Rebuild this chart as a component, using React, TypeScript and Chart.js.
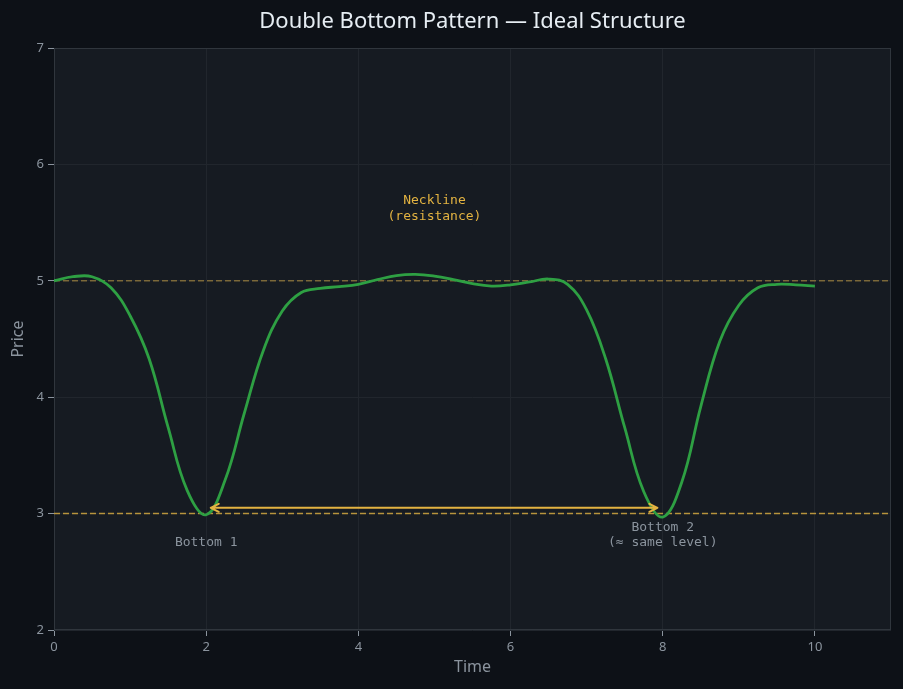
import { Chart, registerables } from "chart.js"
import React, { useEffect, useRef } from "react"

Chart.register(...registerables)

const times = [
  0, 0.25, 0.5, 0.75, 1, 1.25, 1.5, 1.75, 2, 2.25, 2.5, 2.75, 3, 3.25, 3.5, 3.75, 4, 4.25, 4.5, 4.75, 5,
  5.25, 5.5, 5.75, 6, 6.25, 6.5, 6.75, 7, 7.25, 7.5, 7.75, 8, 8.25, 8.5, 8.75, 9, 9.25, 9.5, 9.75, 10,
]
const prices = [
  5.0, 5.035, 5.035, 4.94, 4.7, 4.33, 3.74, 3.2, 2.99, 3.29, 3.86, 4.4, 4.74, 4.9, 4.935, 4.95, 4.97, 5.01,
  5.045, 5.055, 5.04, 5.01, 4.975, 4.955, 4.965, 4.99, 5.015, 4.97, 4.75, 4.33, 3.74, 3.19, 2.97, 3.27, 3.92,
  4.48, 4.79, 4.94, 4.97, 4.965, 4.955,
]

const necklineLevel = 5
const supportLevel = 3
const xRange = [0, 11]
const yRange = [2, 7]
const xTicks = [0, 2, 4, 6, 8, 10]
const yTicks = [2, 3, 4, 5, 6, 7]

// "same level" arrow between the two lows
const arrowFrom = [2.06, 3.05]
const arrowTo = [7.93, 3.05]

const notes = [
  { lines: ["Neckline", "(resistance)"], x: 5, y: [5.685, 5.555], color: "#e3b341" },
  { lines: ["Bottom 1"], x: 2, y: [2.75], color: "#8b949e" },
  { lines: ["Bottom 2", "(≈ same level)"], x: 8, y: [2.88, 2.75], color: "#8b949e" },
]

const GRID = "#21262d"
const MUTED = "#8b949e"

const backdrop = {
  id: "backdrop",
  beforeDraw(chart: Chart) {
    const { ctx, chartArea: a } = chart
    ctx.save()
    ctx.fillStyle = "#0d1117"
    ctx.fillRect(0, 0, chart.width, chart.height)
    ctx.fillStyle = "#161b22"
    ctx.fillRect(a.left, a.top, a.right - a.left, a.bottom - a.top)
    ctx.restore()
  },
  beforeDatasetsDraw(chart: Chart) {
    const { ctx, chartArea: a } = chart
    ctx.save()
    ctx.strokeStyle = "#30363d"
    ctx.lineWidth = 1
    ctx.strokeRect(a.left + 0.5, a.top + 0.5, a.right - a.left - 1, a.bottom - a.top - 1)
    ctx.restore()
  },
}

const annotations = {
  id: "annotations",
  afterDatasetsDraw(chart: Chart) {
    const { ctx } = chart
    const xs = chart.scales.x
    const ys = chart.scales.y
    ctx.save()

    // double-headed arrow
    const x1 = xs.getPixelForValue(arrowFrom[0])
    const y1 = ys.getPixelForValue(arrowFrom[1])
    const x2 = xs.getPixelForValue(arrowTo[0])
    const y2 = ys.getPixelForValue(arrowTo[1])
    ctx.strokeStyle = "#e3b341"
    ctx.lineWidth = 2
    ctx.lineCap = "round"
    ctx.lineJoin = "round"
    ctx.beginPath()
    ctx.moveTo(x1, y1)
    ctx.lineTo(x2, y2)
    ctx.moveTo(x1 + 8, y1 - 4)
    ctx.lineTo(x1, y1)
    ctx.lineTo(x1 + 8, y1 + 4)
    ctx.moveTo(x2 - 8, y2 - 4)
    ctx.lineTo(x2, y2)
    ctx.lineTo(x2 - 8, y2 + 4)
    ctx.stroke()

    ctx.font = "13px 'DejaVu Sans Mono', monospace"
    ctx.textAlign = "center"
    ctx.textBaseline = "middle"
    notes.forEach((n) => {
      ctx.fillStyle = n.color
      n.lines.forEach((line, i) => {
        ctx.fillText(line, xs.getPixelForValue(n.x), ys.getPixelForValue(n.y[i]))
      })
    })
    ctx.restore()
  },
}

const App: React.FC = () => {
  const canvasRef = useRef<HTMLCanvasElement>(null)

  useEffect(() => {
    document.body.style.margin = "0"
    document.body.style.background = "#0d1117"
    const ctx = canvasRef.current?.getContext("2d")
    if (!ctx) return

    const chart = new Chart(ctx, {
      type: "line",
      data: {
        datasets: [
          {
            label: "Price",
            data: times.map((t, i) => ({ x: t, y: prices[i] })),
            borderColor: "#2ea043",
            borderWidth: 2.8,
            pointRadius: 0,
            tension: 0.4,
            fill: false,
          },
          {
            label: "Support",
            data: [
              { x: xRange[0], y: supportLevel },
              { x: xRange[1], y: supportLevel },
            ],
            borderColor: "rgba(227,179,65,0.78)",
            borderWidth: 1.5,
            borderDash: [6, 3],
            pointRadius: 0,
          },
          {
            label: "Neckline",
            data: [
              { x: xRange[0], y: necklineLevel },
              { x: xRange[1], y: necklineLevel },
            ],
            borderColor: "rgba(200,160,70,0.55)",
            borderWidth: 1.5,
            borderDash: [6, 3],
            pointRadius: 0,
          },
        ],
      },
      options: {
        responsive: false,
        animation: false,
        layout: { padding: { left: 0, right: 12, top: 0, bottom: 0 } },
        plugins: {
          legend: { display: false },
          tooltip: { enabled: false },
          title: {
            display: true,
            text: "Double Bottom Pattern — Ideal Structure",
            color: "#e6edf3",
            fullSize: false,
            font: { family: "'Noto Sans', sans-serif", size: 22, weight: "normal" },
            padding: { top: 9, bottom: 12.6 },
          },
        },
        scales: {
          x: {
            type: "linear",
            min: xRange[0],
            max: xRange[1],
            afterBuildTicks: (scale) => {
              scale.ticks = xTicks.map((v) => ({ value: v }))
            },
            afterFit: (scale) => {
              scale.height = 59
            },
            grid: { color: GRID, tickColor: MUTED, tickLength: 6 },
            border: { display: false },
            ticks: {
              color: MUTED,
              padding: 3,
              font: { family: "'Noto Sans', sans-serif", size: 13 },
            },
            title: {
              display: true,
              text: "Time",
              color: MUTED,
              font: { family: "'Noto Sans', sans-serif", size: 16 },
              padding: { top: 0, bottom: 12 },
            },
          },
          y: {
            type: "linear",
            min: yRange[0],
            max: yRange[1],
            afterBuildTicks: (scale) => {
              scale.ticks = yTicks.map((v) => ({ value: v }))
            },
            afterFit: (scale) => {
              scale.width = 54
            },
            grid: { color: GRID, tickColor: MUTED, tickLength: 6 },
            border: { display: false },
            ticks: {
              color: MUTED,
              padding: 4,
              font: { family: "'Noto Sans', sans-serif", size: 13 },
            },
            title: {
              display: true,
              text: "Price",
              color: MUTED,
              font: { family: "'Noto Sans', sans-serif", size: 16 },
              padding: { top: 9, bottom: 0 },
            },
          },
        },
      },
      plugins: [backdrop, annotations],
    })

    return () => {
      chart.destroy()
    }
  }, [])

  return (
    <div style={{ width: 903, height: 689 }}>
      <canvas ref={canvasRef} width={903} height={689} />
    </div>
  )
}

export default App
